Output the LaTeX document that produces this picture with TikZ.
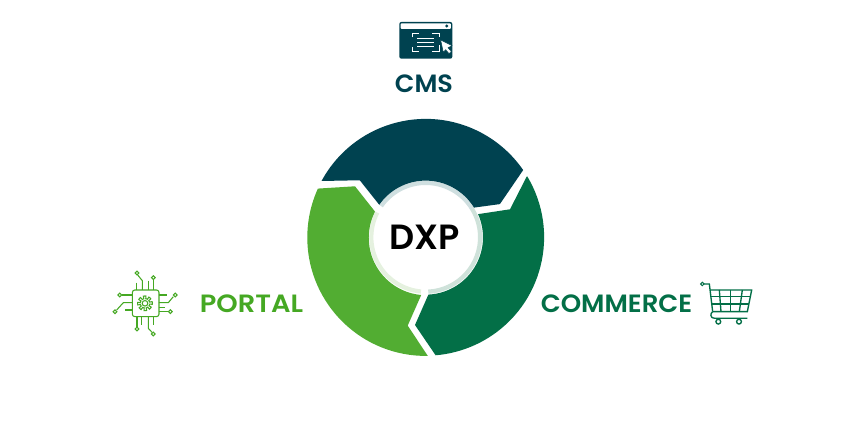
\documentclass[tikz,border=0pt]{standalone}
\usepackage{fontspec}
\setmainfont{Poppins}[BoldFont={Poppins SemiBold}]
\definecolor{navy}{HTML}{004250}
\definecolor{forest}{HTML}{036F47}
\definecolor{leaf}{HTML}{52AD32}
\definecolor{portaltext}{HTML}{45A823}
\definecolor{ringnavy}{HTML}{CFDFE0}
\definecolor{ringforest}{HTML}{CFE2DA}
\definecolor{ringleaf}{HTML}{E5F1DF}
\tikzset{
  label text/.style={font=\bfseries\fontsize{#1}{#1}\selectfont, inner sep=0pt},
  chip line/.style={draw=portaltext, line width=1.05pt},
  cart line/.style={draw=forest, line width=1.35pt},
}
\begin{document}
\begin{tikzpicture}[x=1pt,y=1pt]
\useasboundingbox (0,0) rectangle (848,441);
\fill[white] (0,0) rectangle (848,441);

% centre of the wheel: (425.7, 203.7); outer radius 118.5
\begin{scope}[shift={(425.7,203.7)}]
  % thin pale ring around the hub
  \fill[ringnavy]   (145:56.5) arc[start angle=145,end angle=31.5,radius=56.5] -- (31.5:52.3) arc[start angle=31.5,end angle=145,radius=52.3] -- cycle;
  \fill[ringforest] (31.5:56.5) arc[start angle=31.5,end angle=-87.3,radius=56.5] -- (-87.3:52.3) arc[start angle=-87.3,end angle=31.5,radius=52.3] -- cycle;
  \fill[ringleaf]   (-95:56.5) arc[start angle=-95,end angle=-207,radius=56.5] -- (-207:52.3) arc[start angle=-207,end angle=-95,radius=52.3] -- cycle;
  % navy segment
  \fill[navy] (151.6:118.4) arc[start angle=151.6,end angle=34.6,radius=118.4]
    -- (74.2,33.2) -- (48.4,29.7) -- (31.5:56.7)
    arc[start angle=31.5,end angle=145,radius=56.7]
    -- (-66.7,58) -- (-29.7,57.7) -- cycle;
  % forest segment
  \fill[forest] (31:118.4) arc[start angle=31,end angle=-85.2,radius=118.4]
    -- (-10.7,-87.7) -- (2.7,-57.3)
    arc[start angle=-87.3,end angle=23.9,radius=57.3]
    -- (84.3,28) -- (101,60.7) -- cycle;
  % leaf segment
  \fill[leaf] (-89:118.6) arc[start angle=-89,end angle=-204.4,radius=118.4]
    -- (-70.7,51) -- (-50.7,25.7)
    arc[start angle=153,end angle=265,radius=57.5]
    -- (-18,-88.3) -- cycle;
\end{scope}
\node[label text=35] (hub) at (424.5,203.5) {DXP};

% section titles
\node[label text=25,text=navy,xscale=1.02,transform shape] (cms) at (424,357) {CMS};
\node[label text=25,text=portaltext,xscale=1.09,transform shape] (portal) at (251.5,137) {PORTAL};
\node[label text=25,text=forest,xscale=1.04,transform shape] (commerce) at (616.5,137) {COMMERCE};

% browser window icon
\begin{scope}[shift={(380,431)},x=.3333pt,y=-.3333pt]
  \fill[navy,rounded corners=2pt] (58,36) rectangle (217,146);
  \fill[white,rounded corners=1pt] (62,40) rectangle (213,57);
  \fill[navy] (200,48) circle[radius=1.6pt];
  \begin{scope}[draw=white,line width=.9pt]
    \draw (97,82) -- (97,71) -- (118,71);
    \draw (157,71) -- (178,71) -- (178,82);
    \draw (97,112) -- (97,124) -- (118,124);
    \draw (157,124) -- (178,124) -- (178,105);
    \draw (112,85) -- (163,85);
    \draw (112,97) -- (163,97);
    \draw (112,110) -- (163,110);
  \end{scope}
  \fill[white,draw=navy,line width=.5pt] (182,90) -- (216,107) -- (204,113) -- (214,125) -- (207,131) -- (197,119) -- (190,127) -- cycle;
\end{scope}

% chip icon with a gear and circuit traces
\begin{scope}[shift={(100,181)},x=.3333pt,y=-.3333pt]
  \draw[chip line,rounded corners=2.5pt] (97,90) rectangle (177,170);
  \draw[chip line] plot[domain=0:360,samples=193] ({135+(18+4*sign(cos(8*\x+22)))*cos(\x)},{130+(18+4*sign(cos(8*\x+22)))*sin(\x)}) -- cycle;
  \draw[chip line] (135,130) circle[radius=2.8pt];
  \foreach \cx/\cy in {111/39,160/53,59/105,45/155,226/105,211/155,111/207,160/222}
    \draw[chip line] (\cx,\cy) circle[radius=1.9pt];
  \draw[chip line] (113,45) -- (127,62) -- (127,90);
  \draw[chip line] (160,59) -- (160,90);
  \draw[chip line] (110,68) -- (110,90);
  \draw[chip line] (145,62) -- (145,90);
  \draw[chip line] (65,105) -- (97,105);
  \draw[chip line] (50,150) -- (70,128) -- (97,128);
  \draw[chip line] (75,150) -- (97,150);
  \draw[chip line] (220,110) -- (205,128) -- (177,128);
  \draw[chip line] (177,105) -- (200,105);
  \draw[chip line] (205,155) -- (177,155);
  \draw[chip line] (177,142) -- (195,142);
  \draw[chip line] (111,201) -- (111,170);
  \draw[chip line] (125,170) -- (125,195);
  \draw[chip line] (145,170) -- (145,205) -- (156,217);
  \draw[chip line] (160,170) -- (160,195);
\end{scope}

% shopping cart icon
\begin{scope}[shift={(690,171)},x=.3333pt,y=-.3333pt]
  \draw[cart line,line width=1pt] (37,42) circle[radius=1.7pt];
  \draw[cart line] (42,42) -- (58,42) -- (68,125);
  \draw[cart line] (60,60) -- (185,60) -- (172,125) -- (68,125);
  \draw[cart line] (88,60) -- (93,125);
  \draw[cart line] (122,60) -- (122,125);
  \draw[cart line] (157,60) -- (148,125);
  \draw[cart line] (63,80) -- (181,80);
  \draw[cart line] (65,102) -- (177,102);
  \draw[cart line] (68,125) .. controls (60,130) and (60,145) .. (74,145) -- (172,145);
  \draw[cart line] (85,155) circle[radius=2.4pt];
  \draw[cart line] (147,155) circle[radius=2.4pt];
\end{scope}
\end{tikzpicture}
\end{document}
